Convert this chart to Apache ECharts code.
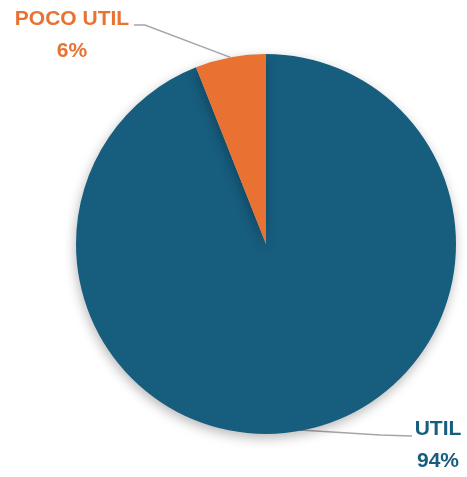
<!DOCTYPE html>
<html><head><meta charset="utf-8">
<script src="https://cdn.jsdelivr.net/npm/echarts@6/dist/echarts.min.js"></script>
<style>html,body{margin:0;padding:0;background:#fff}#c{width:467px;height:477px}</style>
</head><body><div id="c"></div>
<script>
const categories = ['UTIL', 'POCO UTIL'];
const values = [94, 6];
const colors = ['#175d7e', '#e97132'];

const chart = echarts.init(document.getElementById('c'));
const fontFamily = '"Liberation Sans", Arial, sans-serif';
chart.setOption({
  animation: false,
  backgroundColor: '#fff',
  series: [{
    type: 'pie',
    center: [266, 244],
    radius: [0, 190],
    startAngle: 90,
    clockwise: true,
    data: categories.map((n, i) => ({
      name: n, value: values[i],
      itemStyle: { color: colors[i] },
      label: { color: colors[i] }
    })),
    itemStyle: {
      shadowBlur: 12, shadowColor: 'rgba(0,0,0,0.28)', shadowOffsetX: -1, shadowOffsetY: 4
    },
    label: {
      show: true, position: 'outside',
      formatter: '{b}\n{d}%',
      fontFamily: fontFamily, fontWeight: 'bold', fontSize: 21,
      lineHeight: 32, align: 'center'
    },
    labelLine: { show: true, lineStyle: { color: '#a6a6a6', width: 1.5 }, smooth: false },
    labelLayout: function (p) {
      const a = p.labelLinePoints ? p.labelLinePoints[0] : null;
      if (p.dataIndex === 1) {
        return { x: 72, y: 35, align: 'center', verticalAlign: 'middle',
          labelLinePoints: a ? [a, [145, 25], [134, 25]] : undefined };
      }
      return { x: 438, y: 445, align: 'center', verticalAlign: 'middle',
        labelLinePoints: a ? [[300, 430], [380, 435], [412, 436]] : undefined };
    }
  }]
});
</script></body></html>
